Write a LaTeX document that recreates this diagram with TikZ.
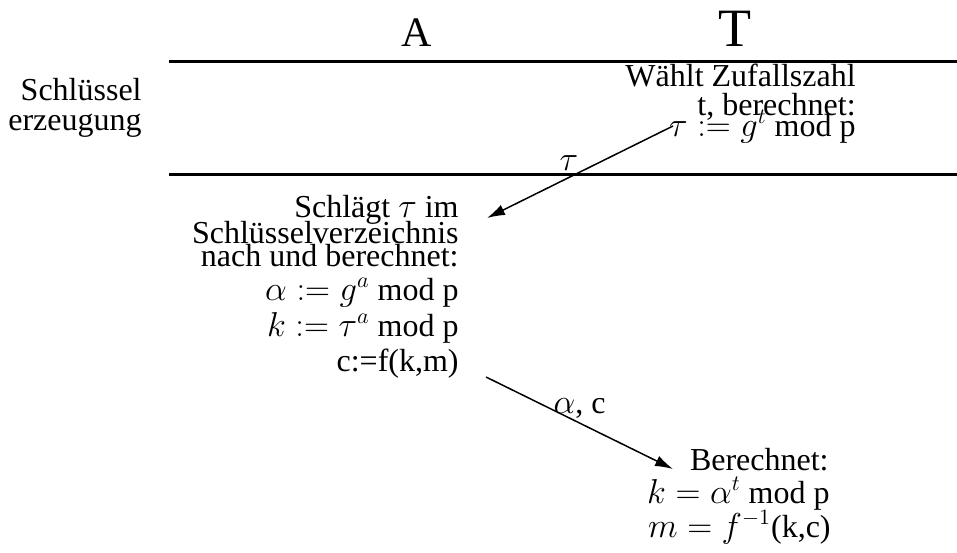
\documentclass[tikz,border=0pt]{standalone}
\usepackage{fontspec}
\setmainfont{Liberation Serif}
\usetikzlibrary{arrows.meta}
\begin{document}
\begin{tikzpicture}[x=0.5pt,y=-0.5pt,
    txt/.style={anchor=base east,inner sep=0pt,font=\fontsize{16}{16}\selectfont},
    msg/.style={-{Latex[length=9pt,width=5.5pt]},line width=0.75pt},
    phaserule/.style={line width=1.5pt}]
  \useasboundingbox (0,0) rectangle (957,552);
  % parties
  \node[anchor=base,inner sep=0pt,font=\fontsize{21}{21}\selectfont] (partyA) at (417,46) {A};
  \node[anchor=base,inner sep=0pt,font=\fontsize{27}{27}\selectfont] (partyT) at (735,46) {T};
  % phase rules
  \coordinate (ruleTopL) at (169,61);
  \coordinate (ruleTopR) at (957,61);
  \coordinate (ruleBotL) at (169,174);
  \coordinate (ruleBotR) at (957,174);
  \draw[phaserule] (ruleTopL) -- (ruleTopR);
  \draw[phaserule] (ruleBotL) -- (ruleBotR);
  % phase label
  \node[txt] (phaseA) at (142,100) {Schlüssel};
  \node[txt] (phaseB) at (142,130) {erzeugung};
  % T: key generation
  \node[txt] (genA) at (856,86) {Wählt Zufallszahl};
  \node[txt] (genB) at (856,115) {t, berechnet:};
  \node[txt] (genC) at (856,136) {$\tau := g^t$ mod p};
  % A: lookup and encryption
  \node[txt] (encA) at (459,217) {Schlägt $\tau$ im};
  \node[txt] (encB) at (459,243) {Schlüsselverzeichnis};
  \node[txt] (encC) at (459,266) {nach und berechnet:};
  \node[txt] (encD) at (459,300) {$\alpha := g^a$ mod p};
  \node[txt] (encE) at (459,336) {$k := \tau^a$ mod p};
  \node[txt] (encF) at (459,371) {c:=f(k,m)};
  % T: decryption
  \node[txt] (decA) at (829,470) {Berechnet:};
  \node[txt] (decB) at (830,503) {$k = \alpha^t$ mod p};
  \node[txt] (decC) at (831,537) {$m = f^{-1}$(k,c)};
  % messages
  \coordinate (tauFrom) at (673,126);
  \coordinate (tauTo) at (487,218);
  \coordinate (ctFrom) at (486,377);
  \coordinate (ctTo) at (673,469);
  \draw[msg] (tauFrom) -- (tauTo) node[pos=0.56,above=3pt,inner sep=0pt,font=\fontsize{16}{16}\selectfont] (tauLbl) {$\tau$};
  \draw[msg] (ctFrom) -- (ctTo) node[pos=0.5,above=2pt,inner sep=0pt,font=\fontsize{16}{16}\selectfont] (ctLbl) {$\alpha$, c};
\end{tikzpicture}
\end{document}
